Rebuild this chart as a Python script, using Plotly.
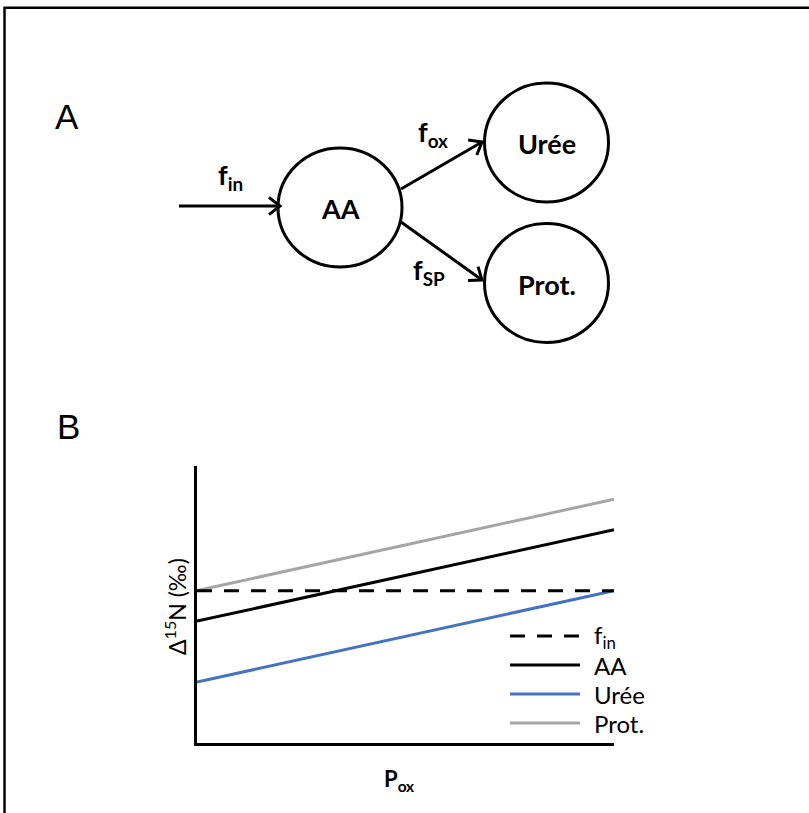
import math
import plotly.graph_objects as go

W, H = 809, 813

# ---------------- Panel B data ----------------
pox = [0, 1]
series_names = ["f<sub>in</sub>", "AA", "Urée", "Prot."]
f_in_vals = [5.5, 5.5]
aa_vals = [4.4, 7.7]
uree_vals = [2.2, 5.5]
prot_vals = [5.5, 8.8]

# ---------------- Panel A schematic ----------------
node_labels = ["AA", "Urée", "Prot."]
flow_labels = ["f<sub>in</sub>", "f<sub>ox</sub>", "f<sub>SP</sub>"]

# layout constants (pixel space of the page, y down)
NODE_POS = [(340, 207.5), (546.5, 142.5), (546.5, 283)]
NODE_R = (62, 59.5)
FLOW_SEG = [((179, 206), (280, 206)), ((401, 189), (482, 142)), ((401, 222), (482, 280))]
FLOW_LABEL_POS = [(216, 176), (416, 133), (411, 271)]

FONT = "Lato, 'Open Sans', sans-serif"
colors = ["#000000", "#000000", "#4472C4", "#A5A5A5"]
dashes = ["15px,12px", "solid", "solid", "solid"]
values = [f_in_vals, aa_vals, uree_vals, prot_vals]

fig = go.Figure()

# Panel B lines (draw order: Prot, Urée, AA, f_in)
for i in [3, 2, 1, 0]:
    fig.add_trace(go.Scatter(
        x=pox, y=values[i], mode="lines", name=series_names[i],
        line=dict(color=colors[i], width=3, dash=dashes[i]),
        xaxis="x", yaxis="y", showlegend=False, hoverinfo="skip"))

# Custom legend samples
LEG_X0, LEG_X1, LEG_TX = 510, 580, 592
LEG_Y = [636, 665, 694, 723]
for i, name in enumerate(series_names):
    fig.add_trace(go.Scatter(
        x=[LEG_X0, LEG_X1], y=[LEG_Y[i], LEG_Y[i]], mode="lines",
        line=dict(color=colors[i], width=3, dash=dashes[i]),
        xaxis="x2", yaxis="y2", showlegend=False, hoverinfo="skip"))

# Arrows with open chevron heads
def arrow(p0, p1, L=14, ang=38):
    (x0, y0), (x1, y1) = p0, p1
    dx, dy = x1 - x0, y1 - y0
    d = math.hypot(dx, dy)
    ux, uy = dx / d, dy / d
    arms = []
    for s in (1, -1):
        a = math.radians(ang) * s
        bx = -ux * math.cos(a) + uy * math.sin(a)
        by = -ux * math.sin(a) - uy * math.cos(a)
        arms.append((x1 + L * bx, y1 + L * by))
    xs = [x0, x1, None, arms[0][0], x1, arms[1][0]]
    ys = [y0, y1, None, arms[0][1], y1, arms[1][1]]
    return xs, ys

for seg in FLOW_SEG:
    xs, ys = arrow(*seg)
    fig.add_trace(go.Scatter(x=xs, y=ys, mode="lines",
                             line=dict(color="black", width=3),
                             xaxis="x2", yaxis="y2", showlegend=False, hoverinfo="skip"))

shapes = []
for (cx, cy) in NODE_POS:
    shapes.append(dict(type="circle", xref="x2", yref="y2",
                       x0=cx - NODE_R[0], x1=cx + NODE_R[0],
                       y0=cy - NODE_R[1], y1=cy + NODE_R[1],
                       line=dict(color="black", width=3)))
# outer frame
shapes.append(dict(type="rect", xref="paper", yref="paper",
                   x0=4.5 / W, x1=1.02, y0=-0.02, y1=1 - 7.8 / H,
                   line=dict(color="black", width=2.5)))

ann = []
for lab, (cx, cy) in zip(node_labels, NODE_POS):
    ann.append(dict(x=cx, y=cy + 1, xref="x2", yref="y2", text=f"<b>{lab}</b>",
                    showarrow=False, font=dict(family=FONT, size=27, color="black")))
for lab, (lx, ly) in zip(flow_labels, FLOW_LABEL_POS):
    ann.append(dict(x=lx, y=ly, xref="x2", yref="y2", text=f"<b>{lab}</b>",
                    xanchor="left", yanchor="middle", showarrow=False,
                    font=dict(family=FONT, size=27, color="black")))
for i, name in enumerate(series_names):
    ann.append(dict(x=LEG_TX, y=LEG_Y[i], xref="x2", yref="y2", text=name,
                    xanchor="left", yanchor="middle", showarrow=False,
                    font=dict(family=FONT, size=24, color="black")))
# panel letters
ann.append(dict(x=67, y=116, xref="x2", yref="y2", text="A", showarrow=False,
                font=dict(family="Liberation Sans, Arial", size=35, color="black")))
ann.append(dict(x=68, y=426, xref="x2", yref="y2", text="B", showarrow=False,
                font=dict(family="Liberation Sans, Arial", size=35, color="black")))
# axis titles
ann.append(dict(x=175, y=607, xref="x2", yref="y2", text="Δ<sup>15</sup>N (‰)",
                textangle=-90, showarrow=False,
                font=dict(family=FONT, size=23, color="black")))
ann.append(dict(x=399, y=780, xref="x2", yref="y2", text="<b>P<sub>ox</sub></b>",
                showarrow=False, font=dict(family=FONT, size=22, color="black")))

fig.update_layout(
    width=W, height=H, margin=dict(l=0, r=0, t=0, b=0),
    paper_bgcolor="white", plot_bgcolor="rgba(0,0,0,0)",
    showlegend=False,
    xaxis=dict(domain=[197 / W, 614 / W], range=[0, 1], showline=True, linecolor="black",
               linewidth=2.5, showticklabels=False, ticks="", showgrid=False, zeroline=False,
               anchor="y", fixedrange=True),
    yaxis=dict(domain=[1 - 743 / H, 1 - 466 / H], range=[0, 10], showline=True, linecolor="black",
               linewidth=2.5, showticklabels=False, ticks="", showgrid=False, zeroline=False,
               anchor="x", fixedrange=True),
    xaxis2=dict(domain=[0, 1], range=[0, W], visible=False, anchor="y2", fixedrange=True),
    yaxis2=dict(domain=[0, 1], range=[H, 0], visible=False, anchor="x2", fixedrange=True),
    shapes=shapes, annotations=ann,
)

fig.write_html("out.html", config={"displayModeBar": False},
               post_script="document.body.style.margin='0px';")
